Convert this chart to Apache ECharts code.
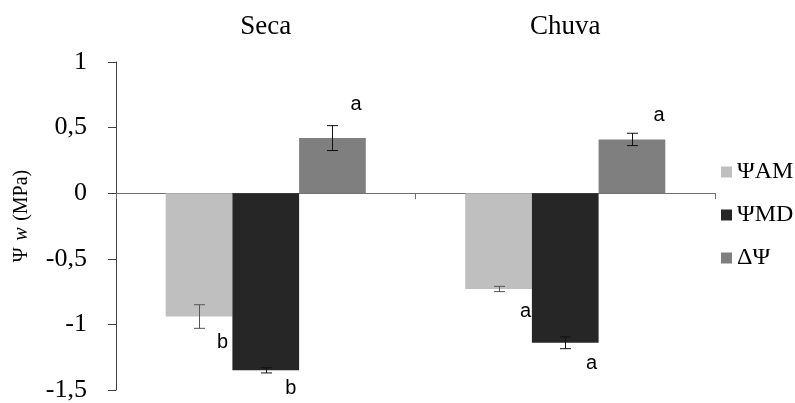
<!DOCTYPE html>
<html><head><meta charset="utf-8">
<script src="https://cdn.jsdelivr.net/npm/echarts@6/dist/echarts.min.js"></script>
<style>html,body{margin:0;padding:0;background:#fff}#c{width:795px;height:403px}</style>
</head><body><div id="c"></div>
<script>
// ---- data ----
const categories = ['Seca', 'Chuva'];
const seriesNames = ['ΨAM', 'ΨMD', 'ΔΨ'];
const psiAM = [-0.94, -0.73];
const psiMD = [-1.35, -1.14];
const deltaPsi = [0.42, 0.41];
const errAM = [0.09, 0.02];
const errMD = [0.02, 0.045];
const errDelta = [0.095, 0.047];
const lettersAM = ['b', 'a'];
const lettersMD = ['b', 'a'];
const lettersDelta = ['a', 'a'];
const yMin = -1.5, yMax = 1, yInterval = 0.5;

// ---- layout / style (not data) ----
const BAR_W = 66.7;
const colors = ['#BFBFBF', '#262626', '#7F7F7F'];
const errColors = ['#555555', '#111111', '#111111'];
const letterDx = [[23.5, 27], [25, 26.4], [23.5, 27]];
const letterDy = [[14, 20], [16, 15], [21, 18]];
const SERIF = '"Liberation Serif", "Times New Roman", serif';
const SANS = '"Liberation Sans", Arial, sans-serif';

const chart = echarts.init(document.getElementById('c'));

function errSeries(si, values, errs, letters) {
  return {
    type: 'custom', xAxisIndex: 0, yAxisIndex: 0, z: 10, silent: true,
    data: values.map((v, i) => [i, v, errs[i]]),
    renderItem: (params, api) => {
      const i = api.value(0), v = api.value(1), e = api.value(2);
      const idx = params.dataIndex;
      const c = api.coord([i, v]);
      const x = Math.round(c[0] + (si - 1) * BAR_W) + 0.5;
      const yLo = api.coord([i, v - e])[1];
      const yHi = api.coord([i, v + e])[1];
      const hw = 5.5;
      const neg = v < 0;
      const endY = neg ? yLo : yHi;
      const ly = endY + (neg ? 1 : -1) * letterDy[si][idx];
      const st = { stroke: errColors[si], lineWidth: 1 };
      return {
        type: 'group', children: [
          { type: 'line', shape: { x1: x, y1: yHi, x2: x, y2: yLo }, style: st },
          { type: 'line', shape: { x1: x - hw, y1: yHi, x2: x + hw, y2: yHi }, style: st },
          { type: 'line', shape: { x1: x - hw, y1: yLo, x2: x + hw, y2: yLo }, style: st },
          { type: 'text', style: { text: letters[idx], x: c[0] + (si - 1) * BAR_W + letterDx[si][idx], y: ly,
            align: 'center', verticalAlign: 'middle', fontSize: 20, fontFamily: SANS, fill: '#000' } }
        ]
      };
    }
  };
}

const barValues = [psiAM, psiMD, deltaPsi];
const option = {
  animation: false,
  grid: { left: 116, right: 80, top: 62, bottom: 13, containLabel: false },
  legend: {
    orient: 'vertical', left: 716, top: 155, itemWidth: 11, itemHeight: 11, itemGap: 19,
    icon: 'rect', data: seriesNames,
    textStyle: { fontFamily: SERIF, fontSize: 24, color: '#000' }
  },
  xAxis: [
    { type: 'category', data: categories, position: 'bottom',
      axisLine: { onZero: true, lineStyle: { color: '#6F6F6F', width: 1 } },
      axisTick: { show: true, length: 6, inside: false, alignWithLabel: false, lineStyle: { color: '#6F6F6F' } },
      axisLabel: { show: false }, splitLine: { show: false } },
    { type: 'category', data: categories, position: 'top',
      axisLine: { show: false }, axisTick: { show: false },
      axisLabel: { show: true, margin: 22, fontFamily: SERIF, fontSize: 27, color: '#000' },
      splitLine: { show: false } }
  ],
  yAxis: {
    type: 'value', min: yMin, max: yMax, interval: yInterval,
    axisLine: { show: true, lineStyle: { color: '#404040', width: 1 } },
    axisTick: { show: true, length: 8, lineStyle: { color: '#404040' } },
    splitLine: { show: false },
    axisLabel: { margin: 29, fontFamily: SERIF, fontSize: 26, color: '#000',
      formatter: v => String(v).replace('.', ',') },
    name: '{p|Ψ}  {w|w}  {p|(MPa)}', nameLocation: 'middle', nameRotate: 90, nameGap: 84,
    nameTextStyle: {
      padding: [0, 0, 0, 20],
      rich: {
        p: { fontFamily: SERIF, fontSize: 20, color: '#000' },
        w: { fontFamily: SERIF, fontSize: 20, fontStyle: 'italic', color: '#000' }
      }
    }
  },
  series: [
    ...barValues.map((vals, si) => ({
      type: 'bar', name: seriesNames[si], data: vals, xAxisIndex: 0,
      barWidth: BAR_W, barGap: '0%',
      itemStyle: { color: colors[si] }
    })),
    errSeries(0, psiAM, errAM, lettersAM),
    errSeries(1, psiMD, errMD, lettersMD),
    errSeries(2, deltaPsi, errDelta, lettersDelta)
  ]
};
chart.setOption(option);
</script></body></html>
